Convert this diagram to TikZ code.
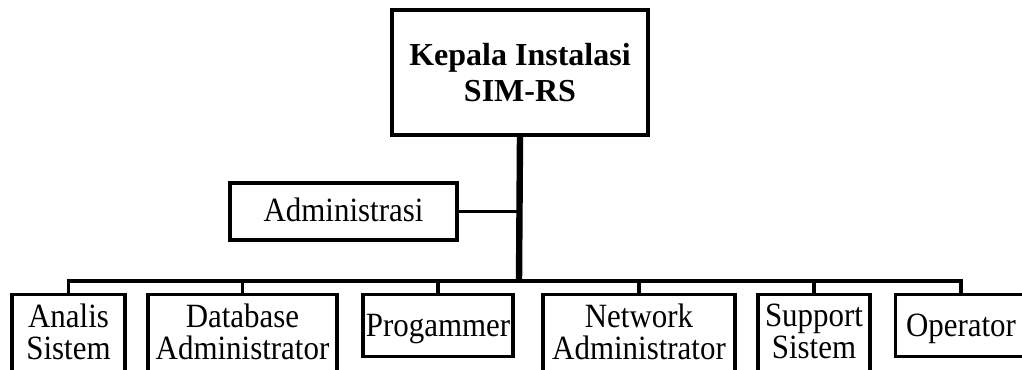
\documentclass[tikz,border=0pt]{standalone}
\usepackage{fontspec}
\setmainfont{Liberation Serif}
\newfontfamily\unitfont[FakeStretch=0.91]{Liberation Serif}
\usepackage{tikz}
\usetikzlibrary{positioning, calc}
\tikzset{
    unitbox/.style={
        draw=black, line width=2.6pt, fill=white, inner sep=0pt,
        align=center, font=\unitfont\fontsize{25.5}{24}\selectfont
    },
    headbox/.style={
        unitbox, font=\rmfamily\fontsize{24}{26.5}\selectfont\bfseries
    },
    staffbox/.style={
        unitbox, anchor=north, minimum height=61.5pt, text depth=0pt
    },
    twoline/.style={text depth=6pt},
    trunk/.style={draw, line width=4.8pt},
    branch/.style={draw, line width=2.8pt}
}

\begin{document}
\begin{tikzpicture}[x=0.75pt, y=-0.75pt]
    \clip (0,0) rectangle (1022,369);

    % --- kepala dan administrasi ---
    \node[headbox, minimum width=192pt, minimum height=93.75pt] (kepala) at (520,72.5) {Kepala Instalasi\\SIM-RS};
    \node[unitbox, minimum width=170.25pt, minimum height=42.75pt, text depth=3pt] (admin) at (343.5,211.5) {Administrasi};

    % --- bus bawah ---
    \coordinate (bus) at (519,281);

    % --- unit-unit ---
    \node[staffbox, twoline, minimum width=84.75pt] (analis) at (68.5,293) {Analis\\Sistem};
    \node[staffbox, twoline, minimum width=141.75pt] (dba) at (242.5,293) {Database\\Administrator};
    \node[staffbox, minimum width=112.5pt, minimum height=46.5pt] (prog) at (438,293) {Progammer};
    \node[staffbox, twoline, minimum width=144pt] (netadm) at (639,293) {Network\\Administrator};
    \node[staffbox, twoline, minimum width=84pt] (support) at (814,293) {Support\\Sistem};
    \node[staffbox, minimum width=98.25pt, minimum height=46.5pt] (operator) at (961,293) {Operator};

    % --- garis ---
    \draw[branch] (admin.east) -- (admin.east -| bus);
    \foreach \n in {analis, dba, prog, netadm, support, operator}
        \draw[branch] (\n.north) |- (bus);
    \draw[trunk] (kepala.south) -- ($(bus)+(0,1.5)$);
\end{tikzpicture}
\end{document}
